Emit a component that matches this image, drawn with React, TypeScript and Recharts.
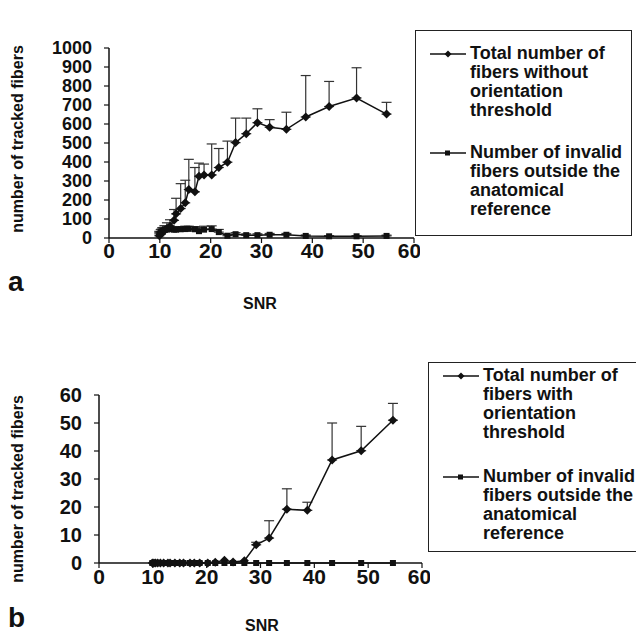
import { LineChart, Line, XAxis, YAxis, ErrorBar } from "recharts"

// SNR positions shared by both panels
const snr = [9.9, 10.2, 10.5, 10.9, 11.4, 12, 12.8, 13.2, 14.1, 15, 15.7, 16.9, 17.7, 18.7, 20.2, 21.6, 23.3, 24.9, 27, 29.2, 31.6, 34.9, 38.7, 43.3, 48.7, 54.6]

// panel a
const totalA = [12, 20, 30, 40, 50, 62, 93, 127, 155, 185, 255, 243, 325, 332, 332, 371, 399, 502, 549, 607, 583, 572, 637, 692, 737, 652]
const totalAUpper = [30, 45, 55, 65, 80, 96, 150, 209, 286, 304, 414, 371, 394, 389, 495, 471, 510, 631, 631, 680, 623, 662, 855, 824, 896, 714]
const invalidA = [22, 32, 38, 42, 45, 46, 44, 44, 46, 47, 48, 46, 36, 44, 47, 31, 12, 20, 15, 15, 17, 17, 11, 9, 9, 11]
const invalidAUpper = [35, 45, 52, 56, 60, 62, 60, 58, 60, 62, 62, 60, 55, 62, 64, 45, 20, 28, 22, 22, 24, 24, 16, 12, 12, 15]

// panel b
const totalB = [0, 0, 0, 0, 0, 0, 0, 0, 0, 0, 0, 0, 0, 0, 0, 0.3, 1, 0.4, 0.8, 6.5, 8.9, 19.2, 18.8, 36.8, 40.1, 51]
const totalBUpper: (number | null)[] = [null, null, null, null, null, null, null, null, null, null, null, null, null, null, null, null, null, null, null, 7.4, 15.1, 26.5, 21.7, 50, 48.8, 57]
const invalidB = [0, 0, 0, 0, 0, 0, 0, 0, 0, 0, 0, 0, 0, 0, 0, 0, 0, 0, 0, 0, 0, 0, 0, 0, 0, 0]

const xTicks = [0, 10, 20, 30, 40, 50, 60]
const yTicksA = [0, 100, 200, 300, 400, 500, 600, 700, 800, 900, 1000]
const yTicksB = [0, 10, 20, 30, 40, 50, 60]

const legendA = [
  ["Total number of", "fibers without", "orientation", "threshold"],
  ["Number of invalid", "fibers outside the", "anatomical", "reference"],
]
const legendB = [
  ["Total number of", "fibers with", "orientation", "threshold"],
  ["Number of invalid", "fibers outside the", "anatomical", "reference"],
]

const FONT = "'Liberation Sans', Arial, sans-serif"
const INK = "#111"

const err = (v: number, up: number | null) => (up == null ? null : [0, Math.max(0, up - v)])

const dataA = snr.map((x, i) => ({
  x,
  total: totalA[i],
  totalErr: err(totalA[i], totalAUpper[i]),
  invalid: invalidA[i],
  invalidErr: err(invalidA[i], invalidAUpper[i]),
}))

const dataB = snr.map((x, i) => ({
  x,
  total: totalB[i],
  totalErr: err(totalB[i], totalBUpper[i]),
  invalid: invalidB[i],
}))

const Diamond = (props: any) => {
  const { cx, cy, index } = props
  if (cx == null || cy == null) return <g key={index} />
  const r = 4.5
  return (
    <polygon
      key={index}
      points={`${cx},${cy - r} ${cx + r},${cy} ${cx},${cy + r} ${cx - r},${cy}`}
      fill={INK}
    />
  )
}

const Square = (props: any) => {
  const { cx, cy, index } = props
  if (cx == null || cy == null) return <g key={index} />
  return <rect key={index} x={cx - 3} y={cy - 3} width={6} height={6} fill={INK} />
}

const tick = (size: number) => ({ fontFamily: FONT, fontWeight: 700, fontSize: size, fill: INK })
const yLabelStyle = { fontFamily: FONT, fontWeight: 700, fontSize: 16, fill: INK, textAnchor: "middle" as const }

function LegendBox({ items, style, lineTops }: { items: string[][]; style: any; lineTops: number[] }) {
  return (
    <div style={{ position: "absolute", border: "1.5px solid #222", boxSizing: "border-box", ...style }}>
      {items.map((lines, k) => (
        <div key={k} style={{ position: "absolute", left: 0, top: lineTops[k] }}>
          <svg width={60} height={19} style={{ position: "absolute", left: 0, top: 0 }}>
            <line x1={14} x2={50} y1={10} y2={10} stroke={INK} strokeWidth={1.5} />
            {k === 0 ? (
              <polygon points="32,6.5 35.5,10 32,13.5 28.5,10" fill={INK} />
            ) : (
              <rect x={29} y={7.5} width={5} height={5} fill={INK} />
            )}
          </svg>
          <div
            style={{
              position: "absolute",
              left: 54,
              top: 0,
              fontFamily: FONT,
              fontWeight: 700,
              fontSize: 18,
              lineHeight: "19px",
              color: INK,
              whiteSpace: "nowrap",
            }}
          >
            {lines.map((t) => (
              <div key={t}>{t}</div>
            ))}
          </div>
        </div>
      ))}
    </div>
  )
}

export default function App() {
  return (
    <div style={{ position: "relative", width: 636, height: 638, background: "#fff", overflow: "hidden" }}>
      <style>{`body{margin:0}`}</style>

      {/* panel a */}
      <div style={{ position: "absolute", left: 0, top: 0 }}>
        <LineChart width={420} height={270} data={dataA} margin={{ top: 48, right: 6, left: 0, bottom: 2 }}>
          <XAxis
            type="number"
            dataKey="x"
            domain={[0, 60]}
            ticks={xTicks}
            height={30}
            tick={tick(21)}
            tickSize={5}
            tickMargin={0}
            axisLine={{ stroke: INK, strokeWidth: 1.5 }}
            tickLine={{ stroke: INK, strokeWidth: 1.2 }}
          />
          <YAxis
            type="number"
            domain={[0, 1000]}
            ticks={yTicksA}
            width={109}
            tick={tick(18)}
            tickSize={5}
            tickMargin={12}
            axisLine={{ stroke: INK, strokeWidth: 1.5 }}
            tickLine={{ stroke: INK, strokeWidth: 1.2 }}
            interval={0}
            label={{ value: "number of tracked fibers", angle: -90, position: "center", dx: -37, dy: -4, style: yLabelStyle }}
          />
          <Line
            dataKey="invalid"
            stroke={INK}
            strokeWidth={1.5}
            dot={Square}
            isAnimationActive={false}
          >
            <ErrorBar dataKey="invalidErr" direction="y" width={5} stroke="#333" strokeWidth={1.2} />
          </Line>
          <Line
            dataKey="total"
            stroke={INK}
            strokeWidth={1.5}
            dot={Diamond}
            isAnimationActive={false}
          >
            <ErrorBar dataKey="totalErr" direction="y" width={5} stroke="#333" strokeWidth={1.2} />
          </Line>
        </LineChart>
      </div>
      <LegendBox items={legendA} style={{ left: 415, top: 30, width: 217, height: 206 }} lineTops={[13, 112]} />
      <div style={{ position: "absolute", left: 8, top: 266, fontFamily: FONT, fontWeight: 700, fontSize: 28, color: INK }}>a</div>
      <div style={{ position: "absolute", left: 243, top: 295, fontFamily: FONT, fontWeight: 700, fontSize: 16, color: INK }}>SNR</div>

      {/* panel b */}
      <div style={{ position: "absolute", left: 0, top: 340 }}>
        <LineChart width={430} height={255} data={dataB} margin={{ top: 55, right: 8, left: 0, bottom: 2 }}>
          <XAxis
            type="number"
            dataKey="x"
            domain={[0, 60]}
            ticks={xTicks}
            height={30}
            tick={tick(21)}
            tickSize={5}
            tickMargin={1}
            axisLine={{ stroke: INK, strokeWidth: 1.5 }}
            tickLine={{ stroke: INK, strokeWidth: 1.2 }}
          />
          <YAxis
            type="number"
            domain={[0, 60]}
            ticks={yTicksB}
            width={99}
            tick={tick(20)}
            tickSize={5}
            tickMargin={12}
            axisLine={{ stroke: INK, strokeWidth: 1.5 }}
            tickLine={{ stroke: INK, strokeWidth: 1.2 }}
            interval={0}
            label={{ value: "number of tracked fibers", angle: -90, position: "center", dx: -32, dy: 10, style: yLabelStyle }}
          />
          <Line
            dataKey="invalid"
            stroke={INK}
            strokeWidth={1.5}
            dot={Square}
            isAnimationActive={false}
          />
          <Line
            dataKey="total"
            stroke={INK}
            strokeWidth={1.5}
            dot={Diamond}
            isAnimationActive={false}
          >
            <ErrorBar dataKey="totalErr" direction="y" width={5} stroke="#333" strokeWidth={1.2} />
          </Line>
        </LineChart>
      </div>
      <LegendBox items={legendB} style={{ left: 428, top: 362, width: 220, height: 190 }} lineTops={[3, 104]} />
      <div style={{ position: "absolute", left: 8, top: 602, fontFamily: FONT, fontWeight: 700, fontSize: 28, color: INK }}>b</div>
      <div style={{ position: "absolute", left: 245, top: 617, fontFamily: FONT, fontWeight: 700, fontSize: 16, color: INK }}>SNR</div>
    </div>
  )
}
